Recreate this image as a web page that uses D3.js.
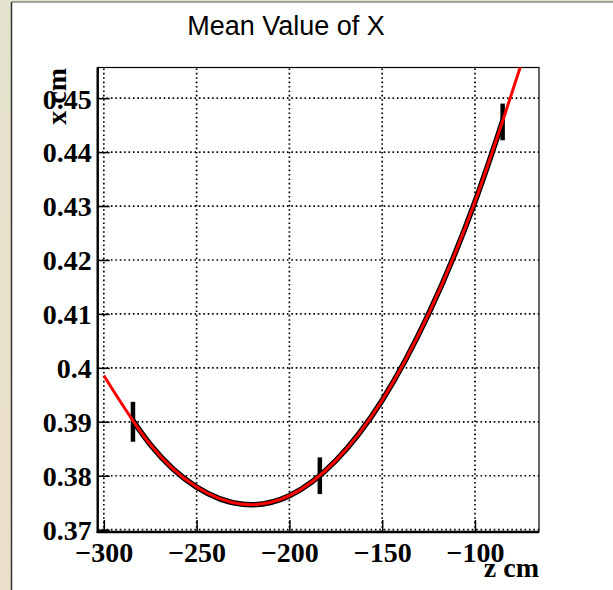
<!DOCTYPE html>
<html><head><meta charset="utf-8">
<script src="https://cdn.jsdelivr.net/npm/d3@7"></script>
<style>html,body{margin:0;padding:0;background:#fff;}svg{display:block;}</style>
</head><body>
<script>
// ---- data ----
const title = "Mean Value of X";
const xLabel = "z cm";
const yLabel = "x cm";
const xTicks = [-300, -250, -200, -150, -100];
const yTicks = [0.37, 0.38, 0.39, 0.40, 0.41, 0.42, 0.43, 0.44, 0.45];
const zPoints = [-284.3, -183.6, -85.1];
const xMeans = [0.390, 0.380, 0.4456];
const xErrs = [0.0037, 0.0034, 0.0034];
const curveZ = [-300, -275, -250, -225, -200, -175, -150, -125, -100, -75];
const curveX = [0.3986, 0.3858, 0.3779, 0.3747, 0.3763, 0.3828, 0.3940, 0.4100, 0.4308, 0.4564];

const W = 613, H = 590;
const svg = d3.select("body").append("svg").attr("width", W).attr("height", H);

// page background
const defs = svg.append("defs");
const g = defs.append("linearGradient").attr("id","bg").attr("x1",0).attr("y1",0).attr("x2",0).attr("y2",1);
g.append("stop").attr("offset","0%").attr("stop-color","#e4e3cd");
g.append("stop").attr("offset","100%").attr("stop-color","#ecdfcb");
svg.append("rect").attr("width", W).attr("height", H).attr("fill","url(#bg)");
svg.append("rect").attr("x", 11.5).attr("y", 2).attr("width", W).attr("height", H).attr("fill","#fff");
svg.append("line").attr("x1",11.5).attr("x2",W).attr("y1",2).attr("y2",2).attr("stroke","#888").attr("stroke-width",1.5);
svg.append("line").attr("x1",11.5).attr("x2",11.5).attr("y1",2).attr("y2",H).attr("stroke","#333").attr("stroke-width",1.5);

const L = 97.7, R = 539, T = 67.5, B = 532;
const x = d3.scaleLinear().domain([-303.3, -65.5]).range([L, R]);
const y = d3.scaleLinear().domain([0.36957, 0.45569]).range([B, T]);

// grid
const grid = svg.append("g").attr("stroke","#000").attr("stroke-width",1.7).attr("stroke-dasharray","1.6,2.8");
grid.selectAll("line.gx").data(xTicks).join("line")
  .attr("x1", d=>x(d)).attr("x2", d=>x(d)).attr("y1", B).attr("y2", T);
grid.selectAll("line.gy").data(yTicks).join("line")
  .attr("x1", L).attr("x2", R).attr("y1", d=>y(d)).attr("y2", d=>y(d));

// axes
const serif = "'Liberation Serif','Times New Roman',serif";
const xAxis = d3.axisBottom(x).tickValues(xTicks).tickSize(-12).tickPadding(10)
  .tickFormat(d => d < 0 ? "\u2212" + Math.abs(d) : d);
const yAxis = d3.axisLeft(y).tickValues(yTicks).tickSize(-12).tickPadding(6)
  .tickFormat(d => d3.format("")(+d.toFixed(2)));
const gx = svg.append("g").attr("transform", `translate(0,${B})`).call(xAxis);
const gy = svg.append("g").attr("transform", `translate(${L},0)`).call(yAxis);
[gx, gy].forEach(a => {
  a.select(".domain").remove();
  a.selectAll(".tick line").attr("stroke","#000").attr("stroke-width",1.5);
  a.selectAll(".tick text").attr("fill","#000").style("font-family", serif)
    .style("font-weight","bold").style("font-size","28px");
});
gy.selectAll(".tick text").attr("dy","0.35em");
gx.selectAll(".tick text").attr("dy","0.72em");

// frame
svg.append("rect").attr("x",L).attr("y",T).attr("width",R-L).attr("height",B-T)
  .attr("fill","none").attr("stroke","#000").attr("stroke-width",1.2);
svg.append("line").attr("x1",L).attr("x2",L).attr("y1",T).attr("y2",B+1).attr("stroke","#000").attr("stroke-width",2.4);
svg.append("line").attr("x1",L-1).attr("x2",R).attr("y1",B).attr("y2",B).attr("stroke","#000").attr("stroke-width",2.4);

// curves
const clipAll = defs.append("clipPath").attr("id","clipAll");
clipAll.append("rect").attr("x",L).attr("y",T).attr("width",R-L).attr("height",B-T);
const clipData = defs.append("clipPath").attr("id","clipData");
clipData.append("rect").attr("x",x(zPoints[0])).attr("y",T).attr("width",x(zPoints[2])-x(zPoints[0])).attr("height",B-T);

const pts = curveZ.map((z,i)=>[z, curveX[i]]);
const line = d3.line().x(d=>x(d[0])).y(d=>y(d[1])).curve(d3.curveNatural);

svg.append("path").attr("d", line(pts)).attr("clip-path","url(#clipData)")
  .attr("fill","none").attr("stroke","#000").attr("stroke-width",5.5);

// error bars
svg.selectAll("line.err").data(zPoints).join("line").attr("class","err")
  .attr("x1",(d)=>x(d)).attr("x2",(d)=>x(d))
  .attr("y1",(d,i)=>y(xMeans[i]-xErrs[i])).attr("y2",(d,i)=>y(xMeans[i]+xErrs[i]))
  .attr("stroke","#000").attr("stroke-width",4.5);

svg.append("path").attr("d", line(pts)).attr("clip-path","url(#clipAll)")
  .attr("fill","none").attr("stroke","#f00").attr("stroke-width",3);

// title and labels
svg.append("text").attr("x",286).attr("y",35).attr("text-anchor","middle")
  .style("font-family","'Liberation Sans',Arial,sans-serif").style("font-size","27px")
  .attr("fill","#000").text(title);
svg.append("text").attr("x",R).attr("y",577).attr("text-anchor","end")
  .style("font-family",serif).style("font-weight","bold").style("font-size","28px")
  .attr("fill","#000").text(xLabel);
svg.append("text").attr("transform",`translate(66,68) rotate(-90)`).attr("text-anchor","end")
  .style("font-family",serif).style("font-weight","bold").style("font-size","28px")
  .attr("fill","#000").text(yLabel);
</script>
</body></html>
